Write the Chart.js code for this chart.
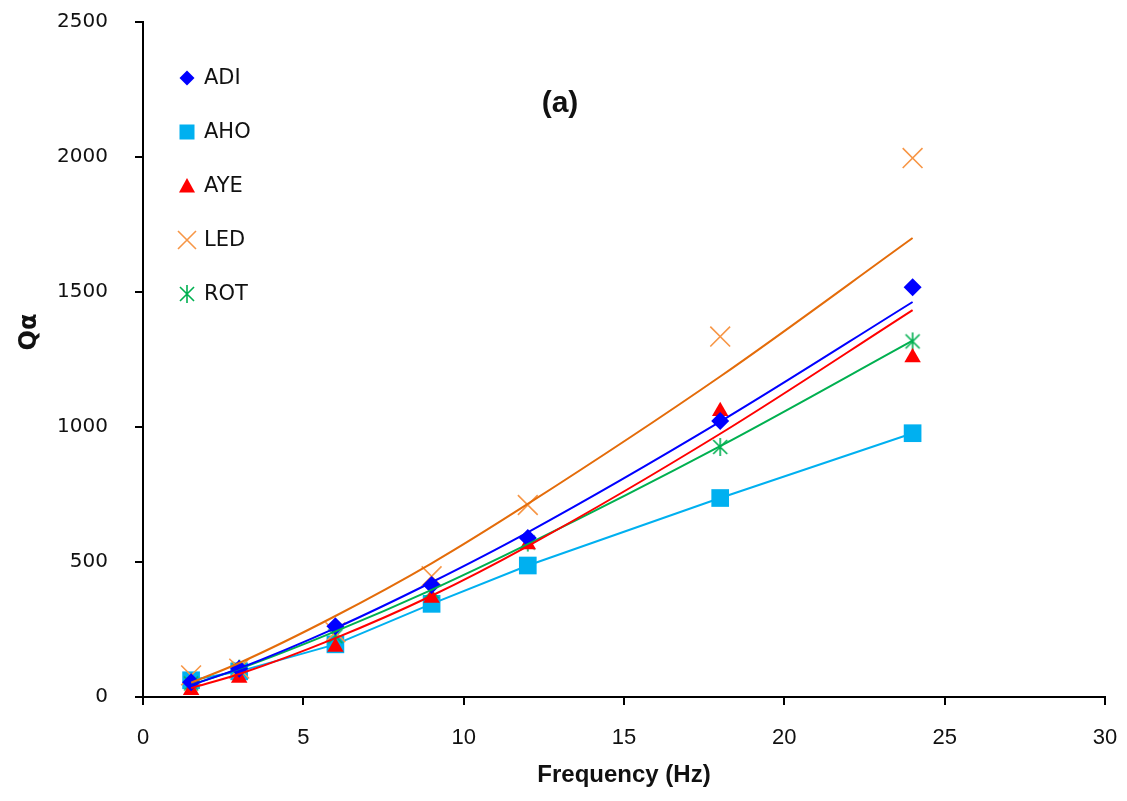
<!DOCTYPE html>
<html>
<head>
<meta charset="utf-8">
<title>Qα vs Frequency</title>
<script src="https://cdn.jsdelivr.net/npm/chart.js@4.4.1/dist/chart.umd.min.js"></script>
<style>
  html, body { margin: 0; padding: 0; background: #ffffff; }
  #wrap { width: 1127px; height: 801px; position: relative; }
</style>
</head>
<body>
<div id="wrap"><canvas id="qa"></canvas></div>
<script>
// Frequencies (Hz) at which Qα was measured
const freq = [1.5, 3, 6, 9, 12, 18, 24];

// Measured Qα per station
const adi = [55, 105, 262, 415, 589, 1022, 1518];
const aho = [62, 95, 195, 345, 487, 737, 977];
const aye = [25, 70, 185, 367, 565, 1058, 1257];
const led = [80, 105, 240, 447, 711, 1335, 1996];
const rot = [50, 105, 225, 392, 572, 926, 1317];

// Fitted trend curves sampled at the same frequencies
const adiTrend = [44, 106, 255, 425, 610, 1020, 1463];
const ayeTrend = [33, 85, 218, 375, 559, 975, 1433];
const ledTrend = [53, 126, 300, 495, 715, 1187, 1700];
const rotTrend = [45, 104, 243, 397, 566, 929, 1320];

// Axis ticks
const xTicks = [0, 5, 10, 15, 20, 25, 30];
const yTicks = [0, 500, 1000, 1500, 2000, 2500];

// Legend entries
const stations = ['ADI', 'AHO', 'AYE', 'LED', 'ROT'];

const C = {
  adi: '#0000ff',
  aho: '#00b0f0',
  aye: '#ff0000',
  ledLine: '#e46c0a',
  ledMark: '#f79646',
  rot: '#00b050'
};

const pts = (ys) => freq.map((x, i) => ({ x: x, y: ys[i] }));

// Asterisk marker: an X crossed by a vertical stroke
function makeStar(size, color) {
  const c = document.createElement('canvas');
  c.width = size; c.height = size;
  const g = c.getContext('2d');
  g.strokeStyle = color;
  g.lineWidth = 1.6;
  const m = size / 2, r = size / 2 - 2;
  const d = r * 0.78;
  g.beginPath();
  g.moveTo(m - d, m - d); g.lineTo(m + d, m + d);
  g.moveTo(m + d, m - d); g.lineTo(m - d, m + d);
  g.moveTo(m, m - r); g.lineTo(m, m + r);
  g.stroke();
  return c;
}
const starImg = makeStar(22, C.rot);

const markerCommon = { showLine: false, borderWidth: 0 };
const lineCommon = { showLine: true, pointRadius: 0, pointHoverRadius: 0, borderWidth: 2, cubicInterpolationMode: 'monotone', fill: false };

const datasets = [
  Object.assign({ label: 'ADI', data: pts(adi), pointStyle: 'rectRot', pointRadius: 9, backgroundColor: C.adi, pointBorderColor: C.adi, order: 2 }, markerCommon),
  Object.assign({ label: 'AHO', data: pts(aho), showLine: true, borderColor: C.aho, borderWidth: 2, pointStyle: 'rect', pointRadius: 12.5, pointBackgroundColor: C.aho, pointBorderWidth: 0, order: 3 }),
  Object.assign({ label: 'AYE', data: pts(aye), pointStyle: 'triangle', pointRadius: 9.5, backgroundColor: C.aye, pointBorderColor: C.aye, order: 2 }, markerCommon),
  { label: 'LED', data: pts(led), showLine: false, pointStyle: 'crossRot', pointRadius: 14, pointBorderColor: C.ledMark, pointBorderWidth: 1.6, backgroundColor: 'rgba(0,0,0,0)', order: 2 },
  { label: 'ROT', data: pts(rot), showLine: false, pointStyle: starImg, pointRadius: 11, order: 2 },
  Object.assign({ label: 'ADI fit', data: pts(adiTrend), borderColor: C.adi, order: 1 }, lineCommon),
  Object.assign({ label: 'AYE fit', data: pts(ayeTrend), borderColor: C.aye, order: 1 }, lineCommon),
  Object.assign({ label: 'LED fit', data: pts(ledTrend), borderColor: C.ledLine, order: 1 }, lineCommon),
  Object.assign({ label: 'ROT fit', data: pts(rotTrend), borderColor: C.rot, order: 1 }, lineCommon)
];

// Legend inside the plot, titles and the panel tag
const annotate = {
  id: 'annotate',
  afterDraw(chart) {
    const ctx = chart.ctx;
    ctx.save();
    const mx = 187, tx = 204, rows = [78, 132, 186, 240, 294];
    stations.forEach((name, i) => {
      const y = rows[i];
      ctx.fillStyle = '#000'; ctx.strokeStyle = '#000';
      if (name === 'ADI') {
        ctx.fillStyle = C.adi;
        ctx.beginPath();
        ctx.moveTo(mx, y - 7.5); ctx.lineTo(mx + 7.5, y); ctx.lineTo(mx, y + 7.5); ctx.lineTo(mx - 7.5, y);
        ctx.closePath(); ctx.fill();
      } else if (name === 'AHO') {
        ctx.fillStyle = C.aho;
        ctx.fillRect(mx - 7.5, y - 7.5, 15, 15);
      } else if (name === 'AYE') {
        ctx.fillStyle = C.aye;
        ctx.beginPath();
        ctx.moveTo(mx, y - 8); ctx.lineTo(mx + 8, y + 6.5); ctx.lineTo(mx - 8, y + 6.5);
        ctx.closePath(); ctx.fill();
      } else if (name === 'LED') {
        ctx.strokeStyle = C.ledMark; ctx.lineWidth = 1.6;
        ctx.beginPath();
        ctx.moveTo(mx - 9, y - 9); ctx.lineTo(mx + 9, y + 9);
        ctx.moveTo(mx + 9, y - 9); ctx.lineTo(mx - 9, y + 9);
        ctx.stroke();
      } else {
        ctx.drawImage(starImg, mx - 11, y - 11);
      }
      ctx.fillStyle = '#111';
      ctx.font = '21px "DejaVu Sans", Verdana, sans-serif';
      ctx.textAlign = 'left'; ctx.textBaseline = 'middle';
      ctx.fillText(name, tx, y + 1);
    });

    // panel tag
    ctx.fillStyle = '#111';
    ctx.font = 'bold 30px "Liberation Sans", Arial, sans-serif';
    ctx.textAlign = 'center'; ctx.textBaseline = 'middle';
    ctx.fillText('(a)', 560, 104);

    // x-axis title
    ctx.font = 'bold 24px "Liberation Sans", Arial, sans-serif';
    ctx.fillText('Frequency (Hz)', 624, 775);

    // y-axis title
    ctx.translate(30, 332);
    ctx.rotate(-Math.PI / 2);
    ctx.font = 'bold 24px "DejaVu Sans", Verdana, sans-serif';
    ctx.fillText('Qα', 0, 0);
    ctx.restore();
  }
};

new Chart(document.getElementById('qa'), {
  type: 'scatter',
  data: { datasets: datasets },
  options: {
    responsive: true,
    maintainAspectRatio: false,
    animation: false,
    layout: { padding: { top: 22, right: 22, left: 0, bottom: 0 } },
    plugins: { legend: { display: false }, tooltip: { enabled: false }, title: { display: false } },
    scales: {
      x: {
        type: 'linear', min: 0, max: 30,
        afterFit(s) { s.height = 104; s.paddingLeft = 0; s.paddingRight = 0; },
        afterBuildTicks(s) { s.ticks = xTicks.map(v => ({ value: v })); },
        grid: { drawOnChartArea: false, drawTicks: true, tickLength: 8, color: '#000', lineWidth: 2 },
        border: { display: true, color: '#000', width: 2 },
        ticks: { color: '#111', padding: 20, callback: (v) => String(v), font: { family: '"Liberation Sans", Arial, sans-serif', size: 22 } }
      },
      y: {
        type: 'linear', min: 0, max: 2500,
        afterFit(s) { s.width = 143; s.paddingTop = 0; s.paddingBottom = 0; },
        afterBuildTicks(s) { s.ticks = yTicks.map(v => ({ value: v })); },
        grid: { drawOnChartArea: false, drawTicks: true, tickLength: 8, color: '#000', lineWidth: 2 },
        border: { display: true, color: '#000', width: 2 },
        ticks: { color: '#111', padding: 27, callback: (v) => String(v), font: { family: '"DejaVu Sans", Verdana, sans-serif', size: 20 } }
      }
    }
  },
  plugins: [annotate]
});
</script>
</body>
</html>
